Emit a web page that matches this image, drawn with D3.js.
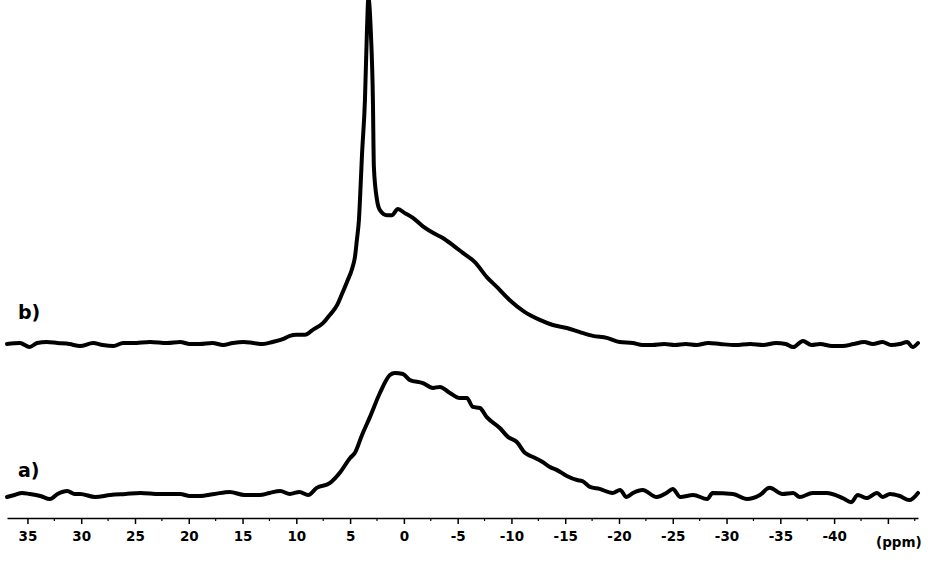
<!DOCTYPE html>
<html>
<head>
<meta charset="utf-8">
<script src="https://cdn.jsdelivr.net/npm/d3@7"></script>
<style>
  body { margin: 0; background: #fff; }
  svg { display: block; }
  .tick-label { font-family: "DejaVu Sans", sans-serif; font-weight: bold; font-size: 13.5px; }
  .trace-label { font-family: "DejaVu Sans", sans-serif; font-weight: bold; font-size: 19px; }
</style>
</head>
<body>
<div id="chart"></div>
<script>
// chemical shift (ppm) and intensity (% of the tallest peak)
var ppmB = [36.9, 35.7, 34.8, 34.1, 33.2, 32.2, 31.1, 30.1, 28.9, 28.0, 27.0, 26.1, 25.2, 23.6, 22.0, 20.8,
  19.9, 19.0, 17.8, 16.8, 15.9, 14.9, 14.0, 13.1, 12.2, 11.2, 10.6, 10.0, 9.2, 8.5, 7.5, 6.9, 6.2, 5.8,
  5.3, 4.8, 4.55, 4.37, 4.18, 4.0, 3.9, 3.62, 3.44, 3.3, 3.07, 2.88, 2.79, 2.5, 2.23, 1.58, 1.12, 0.56,
  -0.09, -0.84, -1.77, -2.70, -3.62, -4.55, -5.48, -6.6, -7.71, -8.64, -9.85, -11.25, -12.64, -13.85,
  -15.15, -16.36, -17.57, -18.87, -20.07, -21.28, -22.2, -23.1, -24.2, -25.2, -26.2, -27.2, -28.3, -29.4,
  -30.8, -32.2, -33.4, -34.6, -35.5, -36.2, -37.1, -37.9, -38.7, -39.8, -40.8, -41.8, -42.8, -43.6,
  -44.5, -45.3, -46.1, -46.8, -47.3, -47.8];
var intB = [-0.3, 0.0, -1.2, 0.0, 0.3, 0.0, -0.3, -0.9, 0.0, -0.6, -0.9, 0.0, 0.0, 0.3, 0.0, 0.3,
  -0.3, -0.3, 0.0, -0.6, 0.0, 0.3, 0.0, -0.3, 0.3, 1.2, 2.1, 2.4, 2.4, 3.8, 5.9, 8.2, 11.2, 14.1,
  17.9, 22.0, 25.3, 30.3, 36.2, 47.9, 55.0, 71.5, 91.2, 101.5, 91.2, 71.5, 51.8, 42.1, 39.1, 37.6, 37.6, 39.4,
  38.2, 36.8, 34.3, 32.4, 30.9, 28.8, 26.5, 23.8, 19.4, 16.5, 12.6, 9.1, 6.8, 5.3,
  4.4, 3.2, 2.1, 1.5, 0.3, 0.0, -0.6, -0.6, -0.3, -0.6, -0.3, -0.6, 0.0, -0.3,
  -0.6, -0.3, -0.6, 0.0, -0.3, -1.2, 0.6, -0.6, -0.3, -0.9, -0.9, -0.3, 0.3, -0.3,
  0.3, -0.6, -0.3, 0.3, -1.2, 0.0];

var ppmA = [36.9, 36.2, 35.5, 34.8, 33.8, 32.9, 32.2, 31.3, 30.6, 30.1, 28.7, 27.3, 25.9, 24.5, 22.7, 20.8,
  19.9, 19.0, 17.6, 16.2, 14.8, 13.4, 12.5, 11.5, 10.6, 9.7, 8.9, 8.1, 6.9, 5.9, 5.0, 4.55, 3.9, 3.16,
  2.23, 1.3, 0.84, 0.09, -0.56, -1.77, -2.70, -3.35, -4.28, -5.2, -5.86, -6.41, -7.06, -7.71, -8.92,
  -9.67, -10.5, -11.25, -12.0, -12.9, -13.6, -14.2, -15.15, -16.1, -16.6, -17.3, -18.2, -19.4, -20.1,
  -20.7, -21.3, -22.2, -23.5, -24.4, -25.0, -25.7, -26.9, -28.2, -28.7, -30.6, -31.9, -33.1, -34.0,
  -35.2, -36.2, -36.8, -38.0, -39.3, -40.8, -41.6, -42.2, -43.0, -44.0, -44.5, -45.2, -46.1, -47.0, -47.8];
var intA = [-0.6, 0.0, 0.6, 0.3, -0.3, -1.2, 0.3, 1.2, 0.3, 0.3, -0.6, 0.0, 0.3, 0.6, 0.3, 0.3,
  -0.3, -0.3, 0.3, 0.9, 0.0, 0.0, 0.6, 1.2, 0.3, 0.9, 0.0, 2.1, 3.5, 6.8, 10.9, 12.4, 17.6, 22.9,
  30.0, 35.3, 35.9, 35.6, 33.8, 32.9, 31.5, 31.8, 30.0, 28.5, 28.5, 25.9, 25.6, 22.9, 19.7,
  17.1, 15.6, 12.4, 11.2, 9.7, 8.2, 7.4, 5.6, 4.4, 4.1, 2.4, 1.8, 0.6, 1.5,
  -0.6, 0.6, 1.5, -0.6, 0.6, 1.8, -0.6, 0.0, -1.2, 0.6, 0.3, -1.2, 0.0, 2.1,
  0.3, 0.6, -0.6, 0.6, 0.6, -0.9, -2.1, 0.0, -0.9, 0.6, -0.6, 0.3, -0.3, -1.5, 0.6];

var majorTicks = [35, 30, 25, 20, 15, 10, 5, 0, -5, -10, -15, -20, -25, -30, -35, -40, -45];
var tickLabels = ["35", "30", "25", "20", "15", "10", "5", "0", "-5", "-10", "-15", "-20", "-25", "-30", "-35", "-40", ""];
var minorTicks = [32.5, 27.5, 22.5, 17.5, 12.5, 7.5, 2.5, -2.5, -7.5, -12.5, -17.5, -22.5, -27.5, -32.5, -37.5, -42.5, -47.5];
var traceNames = ["a)", "b)"];
var unitLabel = "(ppm)";

var width = 940, height = 565;
var axisY = 518;

var svg = d3.select("#chart").append("svg")
  .attr("width", width)
  .attr("height", height);

var x = d3.scaleLinear().domain([36.9, -47.8]).range([7, 918]);
// each trace sits on its own baseline, same vertical gain
var yA = d3.scaleLinear().domain([0, 100]).range([495, 155]);
var yB = d3.scaleLinear().domain([0, 100]).range([343, 3]);

function drawTrace(ppm, vals, yScale) {
  var pts = ppm.map(function(p, i) { return [p, vals[i]]; });
  var line = d3.line()
    .x(function(d) { return x(d[0]); })
    .y(function(d) { return yScale(d[1]); })
    .curve(d3.curveMonotoneX);
  svg.append("path")
    .datum(pts)
    .attr("d", line)
    .attr("fill", "none")
    .attr("stroke", "#000")
    .attr("stroke-width", 4)
    .attr("stroke-linejoin", "round")
    .attr("stroke-linecap", "round");
}

drawTrace(ppmB, intB, yB);
drawTrace(ppmA, intA, yA);

// axis
var axis = d3.axisBottom(x)
  .tickValues(majorTicks)
  .tickSize(6)
  .tickSizeOuter(0)
  .tickFormat(function(d, i) { return tickLabels[i]; });

var gx = svg.append("g")
  .attr("transform", "translate(0," + axisY + ")")
  .call(axis);
gx.select(".domain").attr("stroke", "#000").attr("stroke-width", 1.5);
gx.selectAll(".tick line").attr("stroke", "#000").attr("stroke-width", 1.5);
gx.selectAll(".tick text")
  .attr("class", "tick-label")
  .attr("fill", "#000")
  .attr("y", 13)
  .attr("font-family", null)
  .attr("font-size", null);

gx.selectAll(".minor")
  .data(minorTicks)
  .enter().append("line")
  .attr("x1", function(d) { return x(d); })
  .attr("x2", function(d) { return x(d); })
  .attr("y1", 0)
  .attr("y2", 3)
  .attr("stroke", "#000")
  .attr("stroke-width", 1.2);

svg.append("text")
  .attr("class", "tick-label")
  .attr("x", 876)
  .attr("y", 547)
  .text(unitLabel);

svg.append("text")
  .attr("class", "trace-label")
  .attr("x", 18)
  .attr("y", 477)
  .text(traceNames[0]);

svg.append("text")
  .attr("class", "trace-label")
  .attr("x", 18)
  .attr("y", 319)
  .text(traceNames[1]);
</script>
</body>
</html>
